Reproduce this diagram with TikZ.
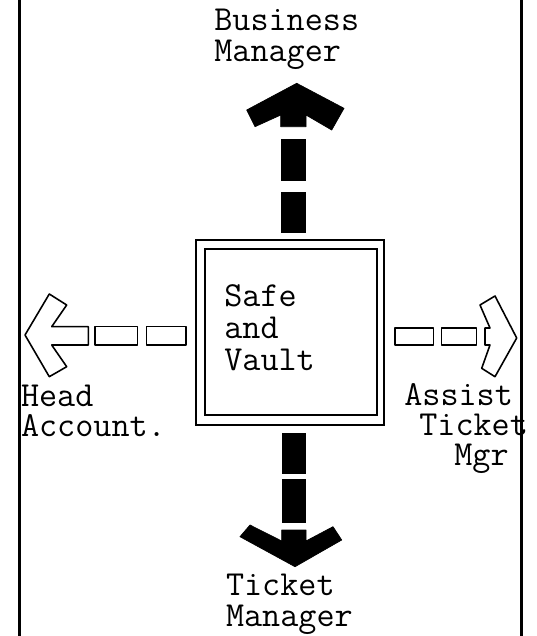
\documentclass[tikz,border=0pt]{standalone}
\usepackage{fontspec}
\usepackage{tikz}

\begin{document}
\begin{tikzpicture}[x=0.02cm, y=-0.02cm,
  lbl/.style={font=\ttfamily\fontsize{20}{18}\selectfont, inner sep=0pt, align=left, anchor=base west},
  sidelbl/.style={lbl, font=\ttfamily\fontsize{20}{16.8}\selectfont},
  solidarr/.style={fill=black, draw=black, line width=0.4pt, line join=round},
  hollowarr/.style={draw=black, line width=0.9pt, line join=round},
  wall/.style={line width=1.7pt}]
\useasboundingbox (0,0) rectangle (537,636);

% side walls of the office
\draw[wall] (19.5,0) -- (19.5,636);
\draw[wall] (521.5,0) -- (521.5,636);

% safe in the middle
\node[draw, line width=1.5pt, minimum width=3.76cm, minimum height=3.7cm] (vault) at (290,332.5) {};
\draw[line width=1.1pt] ([shift={(10.5,10)}]vault.north west) rectangle ([shift={(-8.5,-11)}]vault.south east);
\node[lbl] (safetxt) at (224,370) {Safe\\and\\Vault};

% labels round it (anchored on the last line)
\node[lbl] (busmgr) at (214,61.7) {Business\\Manager};
\node[lbl] (tktmgr) at (225.7,626.7) {Ticket\\Manager};
\node[sidelbl] (headacct) at (20.7,436) {Head\\Account.};
\node[sidelbl] (asstmgr) at (404,465) {Assist\\\hspace*{0.3cm}Ticket\\\hspace*{1cm}Mgr};

% up: to business manager
\foreach \ya/\yb in {139.3/180.7, 191.7/233.3}{\fill (281,\ya) rectangle (306,\yb);}
\filldraw[solidarr] (280.7,126.7) -- (280.7,115) -- (255,126.7) -- (246.7,110) -- (296.7,83.3)
  -- (344,108.3) -- (331.7,130) -- (306,115) -- (306,126.7) -- cycle;

% down: to ticket manager
\foreach \ya/\yb in {433/474, 479/523}{\fill (281.7,\ya) rectangle (306,\yb);}
\filldraw[solidarr] (281.7,530) -- (306,530) -- (306,541) -- (333,526.7) -- (341.7,540)
  -- (295,566.7) -- (240,536.7) -- (250,525) -- (281.7,541) -- cycle;

% left: to head accountant
\foreach \xa/\xb in {95/137.3, 146.7/186}{\draw[hollowarr] (\xa,326.7) rectangle (\xb,345);}
\draw[hollowarr] (25,335) -- (49.3,294) -- (66.7,305) -- (51.7,326.7) -- (88.3,326.7)
  -- (88.3,345) -- (51.7,345) -- (66.7,366.7) -- (49.3,376.7) -- cycle;

% right: to assistant ticket manager
\foreach \xa/\xb in {395/433.3, 441.7/476.7}{\draw[hollowarr] (\xa,328) rectangle (\xb,345);}
\draw[hollowarr] (516.7,338) -- (495,296) -- (480,305) -- (490,328) -- (485,328)
  -- (485,345) -- (490,345) -- (481.7,368.3) -- (495,376.7) -- cycle;
\end{tikzpicture}
\end{document}
